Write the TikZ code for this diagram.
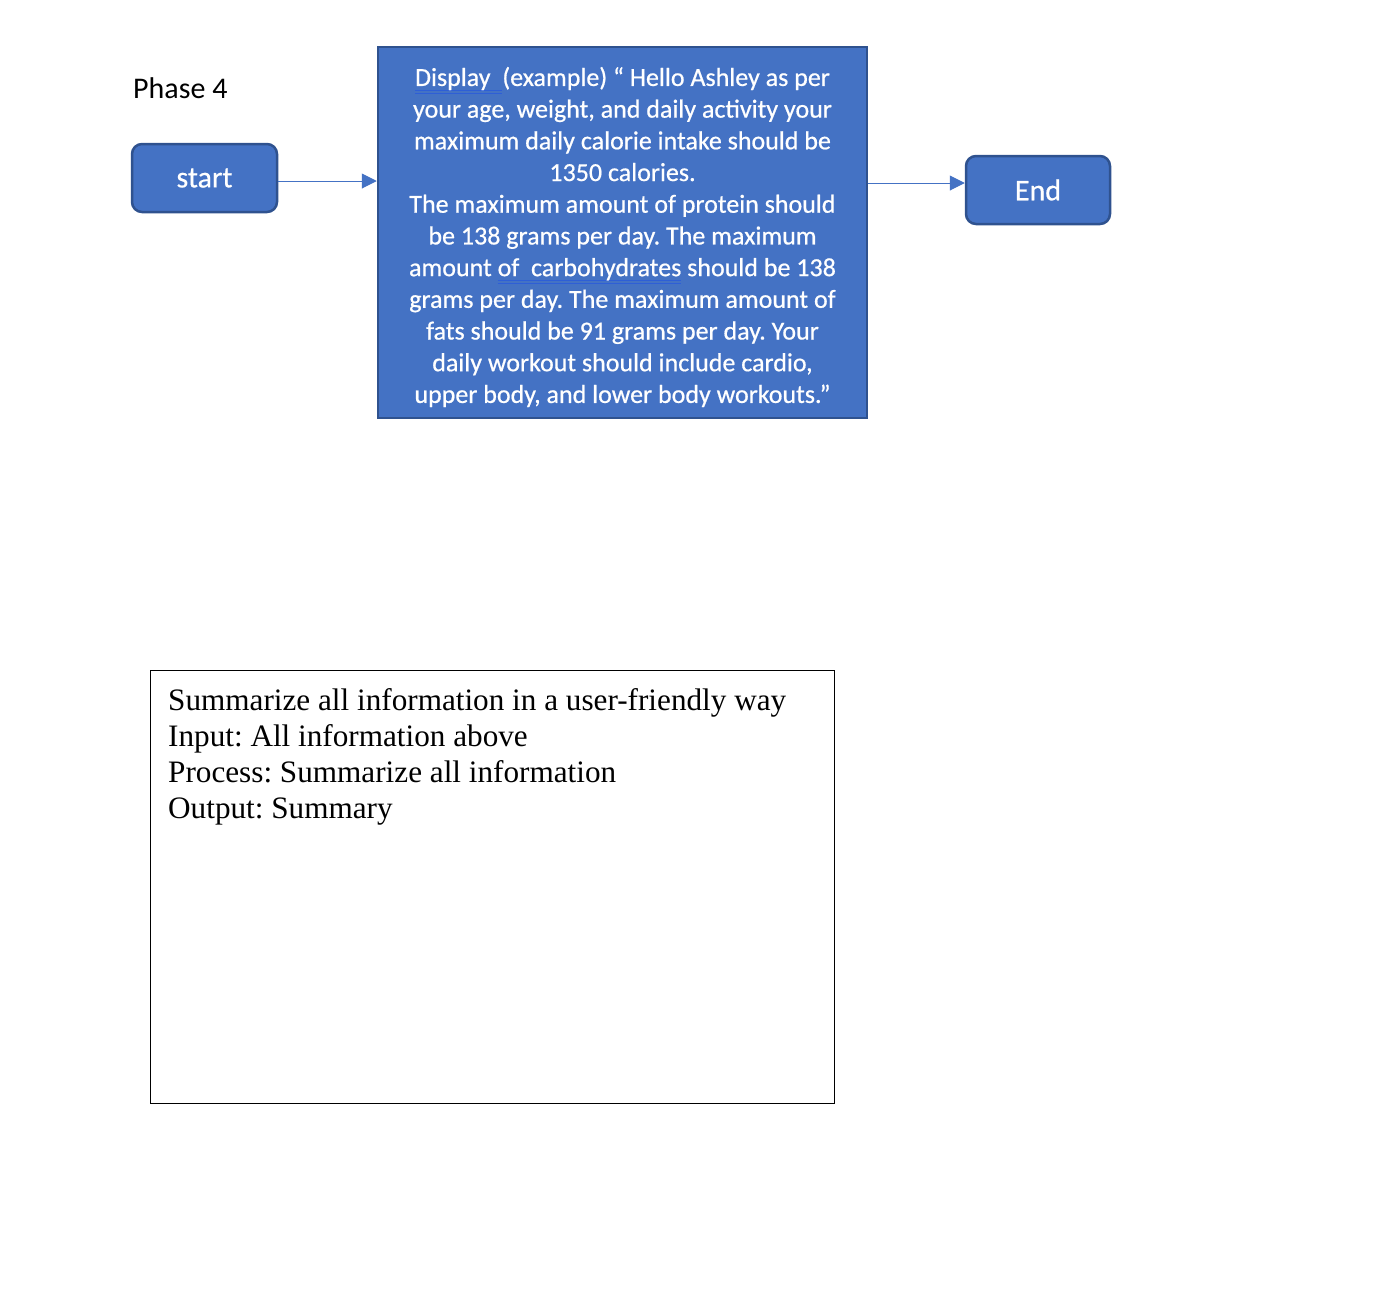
\documentclass[tikz,border=0pt]{standalone}
\usepackage{fontspec}
\setmainfont{Carlito}
\newfontfamily\boxfont[FakeBold=0.6]{Carlito}
\newfontfamily\timesfont{Liberation Serif}
\usetikzlibrary{arrows.meta}
\frenchspacing
\definecolor{boxfill}{HTML}{4472C4}
\definecolor{boxedge}{HTML}{2F528F}
\definecolor{squig}{HTML}{2E5FD6}
\newsavebox{\dulbox}
\newcommand{\dul}[1]{\sbox{\dulbox}{#1}%
  \rlap{\textcolor{squig}{\rule[-5pt]{\wd\dulbox}{1.2pt}}}%
  \rlap{\textcolor{squig}{\rule[-8pt]{\wd\dulbox}{1.2pt}}}%
  \usebox{\dulbox}}
\tikzset{
  flowbox/.style={draw=boxedge, fill=boxfill, line width=2.5pt, text=white, inner sep=0pt},
  rbox/.style={flowbox, rounded corners=10pt, font=\boxfont\fontsize{30}{36}\selectfont},
  conn/.style={draw=boxfill, line width=1pt, -{Triangle[length=15pt,width=15pt]}}
}
\begin{document}
\begin{tikzpicture}[x=1pt,y=-1pt]
\useasboundingbox (0,0) rectangle (1392,1302);
\node[anchor=base west, inner sep=0pt, font=\fontsize{30}{36}\selectfont] (phase) at (133,98) {Phase 4};
\node[rbox, minimum width=145pt, minimum height=68pt] (start) at (204.5,178) {\raisebox{-2pt}{start}};
\node[flowbox, minimum width=489pt, minimum height=371pt] (disp) at (622.5,232.5) {};
\node[text=white, inner sep=0pt, align=center, font=\boxfont\fontsize{26}{31.7}\selectfont] (disptext) at (622.5,237)
  {\dul{Display\ \ }(example) “ Hello Ashley as per\\
   your age, weight, and daily activity your\\
   maximum daily calorie intake should be\\
   1350 calories.\\
   The maximum amount of protein should\\
   be 138 grams per day. The maximum\\
   amount \dul{of\ \ carbohydrates} should be 138\\
   grams per day. The maximum amount of\\
   fats should be 91 grams per day. Your\\
   daily workout should include cardio,\\
   upper body, and lower body workouts.”};
\node[rbox, minimum width=144pt, minimum height=68pt] (end) at (1038,190) {\raisebox{-2pt}{End}};
\draw[conn] (start.east |- 0,181) -- (disp.west |- 0,181);
\draw[conn] (disp.east |- 0,183) -- (end.west |- 0,183);
\node[draw=black, line width=0.8pt, minimum width=684pt, minimum height=433pt, inner sep=0pt] (sum) at (492,886.5) {};
\node[anchor=north west, inner sep=0pt, align=left, font=\timesfont\fontsize{31.2}{36}\selectfont] (sumtext) at (168,688)
  {Summarize all information in a user-friendly way\\
   Input: All information above\\
   Process: Summarize all information\\
   Output: Summary};
\end{tikzpicture}
\end{document}
